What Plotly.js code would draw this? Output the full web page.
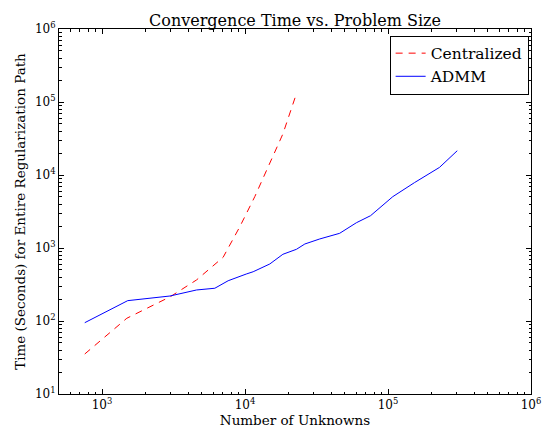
<!DOCTYPE html>
<html>
<head>
<meta charset="utf-8">
<script src="https://cdn.plot.ly/plotly-3.0.1.min.js"></script>
<style>html,body{margin:0;padding:0;background:#fff;}#chart{width:542px;height:431px;}</style>
</head>
<body>
<div id="chart"></div>
<script>
// Centralized solver
const centralN = [757, 1490, 3000, 4580, 7030, 7960, 9200, 11700, 14900, 18400, 22900];
const centralTime = [35.3, 109, 215, 365, 747, 1160, 1960, 5050, 14500, 36500, 131000];
// ADMM solver
const admmN = [757, 1512, 2985, 4580, 6150, 7620, 10200, 11400, 14900, 18400, 22900, 26200, 33300, 45900, 60100, 75500, 108000, 153000, 229000, 305000];
const admmTime = [94.8, 190, 220, 266, 281, 356, 440, 473, 604, 820, 960, 1135, 1330, 1590, 2220, 2770, 5050, 7850, 12700, 21500];
// tick labels
const xTickVals = [1e3, 1e4, 1e5, 1e6];
const xTickText = ['10<sup>3</sup>', '10<sup>4</sup>', '10<sup>5</sup>', '10<sup>6</sup>'];
const yTickVals = [1e1, 1e2, 1e3, 1e4, 1e5, 1e6];
const yTickText = ['10<sup>1</sup>', '10<sup>2</sup>', '10<sup>3</sup>', '10<sup>4</sup>', '10<sup>5</sup>', '10<sup>6</sup>'];

const FONT = 'DejaVu Serif, serif';

function minorVals(lo, hi) {
  const v = [];
  for (let e = lo; e < hi; e++) for (let m = 2; m <= 9; m++) v.push(m * Math.pow(10, e));
  return v;
}

const traces = [
  {x: centralN, y: centralTime, type: 'scatter', mode: 'lines', name: 'Centralized',
   line: {color: '#ff0000', width: 1, dash: '7px,6px'}},
  {x: admmN, y: admmTime, type: 'scatter', mode: 'lines', name: 'ADMM',
   line: {color: '#0000ff', width: 1}}
];

const axisCommon = {
  type: 'log', showgrid: false, zeroline: false, showline: true, linecolor: '#000', linewidth: 1,
  mirror: 'ticks', ticks: 'inside', ticklen: 5, tickcolor: '#000', tickwidth: 1,
  tickfont: {family: FONT, size: 12, color: '#000'}
};

const layout = {
  width: 542, height: 431,
  margin: {l: 59, r: 11, t: 29, b: 37},
  paper_bgcolor: '#fff', plot_bgcolor: '#fff',
  showlegend: true,
  title: {text: 'Convergence Time vs. Problem Size', font: {family: FONT, size: 16, color: '#000'},
          x: 0.5, xanchor: 'center', xref: 'paper', y: 1, yref: 'paper', yanchor: 'bottom', pad: {b: 3}},
  xaxis: Object.assign({}, axisCommon, {
    range: [Math.log10(500), 6], tickvals: xTickVals, ticktext: xTickText,
    minor: {tickmode: 'array', tickvals: minorVals(2, 6), ticks: 'inside', ticklen: 2.5, tickcolor: '#000', tickwidth: 1, showgrid: false},
    title: {text: 'Number of Unknowns', font: {family: FONT, size: 13.5, color: '#000'}, standoff: 4}
  }),
  yaxis: Object.assign({}, axisCommon, {
    range: [1, 6], tickvals: yTickVals, ticktext: yTickText,
    minor: {tickmode: 'array', tickvals: minorVals(1, 6), ticks: 'inside', ticklen: 2.5, tickcolor: '#000', tickwidth: 1, showgrid: false},
    title: {text: 'Time (Seconds) for Entire Regularization Path', font: {family: FONT, size: 13.5, color: '#000'}, standoff: 6}
  }),
  legend: {x: 0.995, y: 0.982, xanchor: 'right', yanchor: 'top', bgcolor: '#fff', bordercolor: '#000', borderwidth: 1,
           font: {family: FONT, size: 15.5, color: '#000'}, tracegroupgap: 0}
};

Plotly.newPlot('chart', traces, layout, {displayModeBar: false, staticPlot: true});
</script>
</body>
</html>
